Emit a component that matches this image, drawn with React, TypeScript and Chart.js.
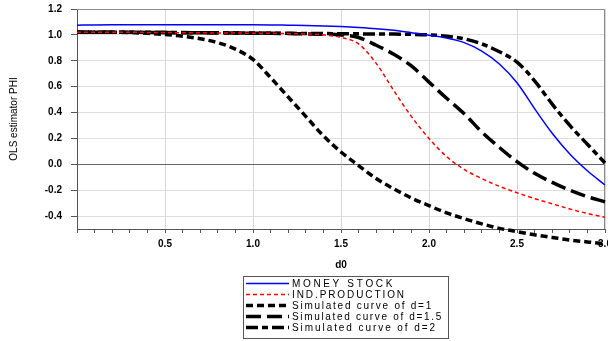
import React, { useEffect, useRef } from "react";
import { Chart, registerables } from "chart.js";

Chart.register(...registerables);

const dValues = [0, 0.1, 0.2, 0.3, 0.4, 0.5, 0.6, 0.7, 0.8, 0.9, 1.0, 1.1, 1.2, 1.3, 1.4, 1.5, 1.6, 1.7, 1.8, 1.9, 2.0, 2.1, 2.2, 2.3, 2.4, 2.5, 2.6, 2.7, 2.8, 2.9, 3.0];

const moneyStock = [1.075, 1.077, 1.078, 1.078, 1.079, 1.079, 1.079, 1.079, 1.079, 1.078, 1.078, 1.077, 1.075, 1.073, 1.069, 1.064, 1.057, 1.048, 1.035, 1.017, 0.998, 0.975, 0.94, 0.875, 0.775, 0.63, 0.43, 0.24, 0.08, -0.05, -0.16];
const indProduction = [1.02, 1.02, 1.02, 1.02, 1.019, 1.018, 1.017, 1.016, 1.015, 1.014, 1.013, 1.012, 1.01, 1.007, 1.0, 0.98, 0.93, 0.78, 0.57, 0.37, 0.2, 0.06, -0.04, -0.11, -0.17, -0.22, -0.265, -0.305, -0.345, -0.38, -0.41];
const simD1 = [1.02, 1.02, 1.02, 1.018, 1.012, 1.003, 0.99, 0.97, 0.94, 0.89, 0.81, 0.67, 0.52, 0.37, 0.22, 0.095, -0.01, -0.11, -0.19, -0.26, -0.32, -0.375, -0.42, -0.46, -0.495, -0.52, -0.545, -0.565, -0.585, -0.6, -0.615];
const simD15 = [1.02, 1.02, 1.02, 1.02, 1.019, 1.018, 1.017, 1.016, 1.015, 1.014, 1.013, 1.012, 1.01, 1.008, 1.005, 1.0, 0.98, 0.92, 0.85, 0.76, 0.635, 0.51, 0.39, 0.25, 0.13, 0.02, -0.07, -0.14, -0.2, -0.25, -0.29];
const simD2 = [1.02, 1.02, 1.02, 1.02, 1.02, 1.019, 1.018, 1.017, 1.016, 1.015, 1.014, 1.013, 1.012, 1.011, 1.01, 1.009, 1.008, 1.007, 1.006, 1.004, 1.0, 0.99, 0.97, 0.93, 0.87, 0.79, 0.645, 0.465, 0.3, 0.155, 0.01];

const seriesLabels = ["MONEY STOCK", "IND.PRODUCTION", "Simulated curve of d=1", "Simulated curve of d=1.5", "Simulated curve of d=2"];
const yTickValues = [-0.4, -0.2, 0.0, 0.2, 0.4, 0.6, 0.8, 1.0, 1.2];
const xLabelValues = [0.5, 1.0, 1.5, 2.0, 2.5, 3.0];
const xMinorStep = 0.1;

const FONT = "'Liberation Sans', Arial, sans-serif";

const styles = [
  { color: "#0000ff", width: 1.5, dash: [] as number[] },
  { color: "#ff0000", width: 1.5, dash: [4, 3] },
  { color: "#000000", width: 3.5, dash: [7, 4] },
  { color: "#000000", width: 3.5, dash: [15, 6] },
  { color: "#000000", width: 3.5, dash: [12, 4, 6, 4] },
];

const legendTextEnds = [395, 406, 433, 443, 437];

const isMajor = (v: number) => Math.abs(v * 2 - Math.round(v * 2)) < 1e-6 && v > 0.01;

const frameAndLegend = {
  id: "frameAndLegend",
  beforeDatasetsDraw(chart: any) {
    const { ctx, chartArea } = chart;
    ctx.save();
    ctx.strokeStyle = "#8a8a8a";
    ctx.lineWidth = 1;
    ctx.beginPath();
    ctx.moveTo(chartArea.left, chartArea.top + 0.5);
    ctx.lineTo(chartArea.right - 0.5, chartArea.top + 0.5);
    ctx.lineTo(chartArea.right - 0.5, chartArea.bottom);
    ctx.stroke();
    ctx.restore();
  },
  afterDraw(chart: any) {
    const { ctx } = chart;
    ctx.save();
    const bx = 243, by = 276, bw = 205, bh = 62;
    ctx.strokeStyle = "#555";
    ctx.lineWidth = 1;
    ctx.strokeRect(bx + 0.5, by + 0.5, bw, bh);
    const rowY = [283.5, 294.5, 305.5, 316.5, 327.5];
    chart.data.datasets.forEach((ds: any, i: number) => {
      const y = rowY[i];
      ctx.save();
      ctx.strokeStyle = ds.borderColor;
      ctx.lineWidth = ds.borderWidth;
      ctx.setLineDash(ds.borderDash || []);
      ctx.beginPath();
      ctx.moveTo(246, y);
      ctx.lineTo(289, y);
      ctx.stroke();
      ctx.restore();
      ctx.fillStyle = "#000";
      ctx.font = `10px ${FONT}`;
      ctx.textBaseline = "middle";
      const text: string = ds.label;
      const chars = Array.from(text);
      const raw = chars.reduce((s, c) => s + ctx.measureText(c).width, 0);
      const startX = 292;
      const spacing = (legendTextEnds[i] - startX - raw) / chars.length;
      let x = startX;
      chars.forEach((c) => {
        ctx.fillText(c, x, y + 0.5);
        x += ctx.measureText(c).width + spacing;
      });
    });
    ctx.restore();
  },
};

export default function App() {
  const ref = useRef<HTMLCanvasElement>(null);
  useEffect(() => {
    document.body.style.margin = "0";
    const seriesData = [moneyStock, indProduction, simD1, simD15, simD2];
    const chart = new Chart(ref.current!, {
      type: "line",
      data: {
        datasets: seriesData.map((vals, i) => ({
          label: seriesLabels[i],
          data: vals.map((v, k) => ({ x: dValues[k], y: v })),
          borderColor: styles[i].color,
          backgroundColor: styles[i].color,
          borderWidth: styles[i].width,
          borderDash: styles[i].dash,
          pointRadius: 0,
          cubicInterpolationMode: "monotone" as const,
          fill: false,
          clip: false as any,
        })),
      },
      options: {
        responsive: false,
        animation: false,
        layout: { padding: { top: 9, right: 3, left: 0, bottom: 0 } },
        plugins: { legend: { display: false }, tooltip: { enabled: false } },
        scales: {
          x: {
            type: "linear",
            min: 0,
            max: 3,
            afterBuildTicks: (scale: any) => {
              const t = [];
              for (let k = 0; k <= 30; k++) t.push({ value: Math.round(k * xMinorStep * 10) / 10 });
              scale.ticks = t;
            },
            afterFit: (scale: any) => {
              scale.height = 112;
              scale.paddingLeft = 0;
              scale.paddingRight = 0;
            },
            ticks: {
              autoSkip: false,
              maxRotation: 0,
              padding: 5,
              color: "#000",
              font: { family: FONT, size: 10, weight: "bold" },
              callback: (v: any) => {
                const n = Number(v);
                return xLabelValues.some((l) => Math.abs(l - n) < 1e-6) ? n.toFixed(1) : "";
              },
            },
            grid: {
              color: (c: any) => (c.tick && isMajor(c.tick.value) ? "#d8d8d8" : "rgba(0,0,0,0)"),
              tickColor: "#555",
              tickLength: 4,
              lineWidth: 1,
            },
            border: { color: "#555", width: 1 },
            title: {
              display: true,
              text: "d0",
              color: "#000",
              font: { family: FONT, size: 10, weight: "bold" },
              padding: { top: 0, bottom: 70 },
            },
          },
          y: {
            type: "linear",
            min: -0.5,
            max: 1.2,
            afterBuildTicks: (scale: any) => {
              scale.ticks = yTickValues.map((v) => ({ value: v }));
            },
            afterFit: (scale: any) => {
              scale.width = 77;
              scale.paddingTop = 0;
              scale.paddingBottom = 0;
            },
            ticks: {
              padding: 9,
              color: "#000",
              font: { family: FONT, size: 10, weight: "bold" },
              callback: (v: any) => Number(v).toFixed(1),
            },
            grid: {
              color: (c: any) => (c.tick && Math.abs(c.tick.value) < 1e-6 ? "#666" : "#dedede"),
              tickColor: "#555",
              tickLength: 6,
              lineWidth: 1,
            },
            border: { color: "#555", width: 1 },
            title: {
              display: true,
              text: "OLS estimator PHI",
              color: "#000",
              font: { family: FONT, size: 10 },
              padding: { top: 8, bottom: 0 },
            },
          },
        },
      },
      plugins: [frameAndLegend],
    });
    return () => chart.destroy();
  }, []);
  return <canvas ref={ref} width={608} height={341} style={{ display: "block" }} />;
}
